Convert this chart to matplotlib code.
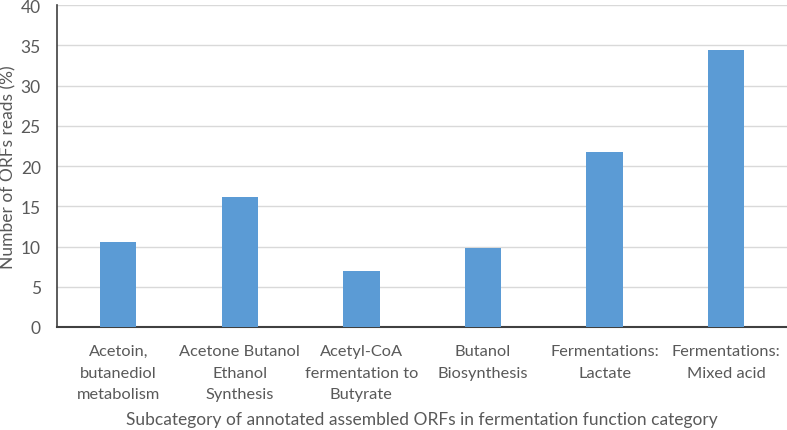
import matplotlib
matplotlib.use("Agg")
import matplotlib.pyplot as plt

categories = ["Acetoin,\nbutanediol\nmetabolism",
              "Acetone Butanol\nEthanol\nSynthesis",
              "Acetyl-CoA\nfermentation to\nButyrate",
              "Butanol\nBiosynthesis",
              "Fermentations:\nLactate",
              "Fermentations:\nMixed acid"]
values = [10.5, 16.1, 6.9, 9.8, 21.8, 34.4]
yticks = [0, 5, 10, 15, 20, 25, 30, 35, 40]

plt.rcParams['font.family'] = ['Lato', 'DejaVu Sans']
text_color = '#595959'

fig = plt.figure(figsize=(7.87, 4.31), dpi=100)
ax = fig.add_axes([0.073, 0.239, 0.927, 0.747])

x = range(len(values))
ax.bar(x, values, width=0.3, color='#5b9bd5', zorder=3)

ax.set_xlim(-0.5, len(values) - 0.5)
ax.set_ylim(0, 40)
ax.set_yticks(yticks)
ax.grid(axis='y', color='#d9d9d9', linewidth=1, zorder=0)
ax.set_xticks(list(x))
ax.set_xticklabels(categories, fontsize=11.8, color=text_color, linespacing=1.72)
ax.tick_params(axis='x', length=0, pad=12)
ax.tick_params(axis='y', length=0, pad=12, labelsize=12.5, labelcolor=text_color)

for s in ['top', 'right']:
    ax.spines[s].set_visible(False)
ax.spines['bottom'].set_color('#404040')
ax.spines['bottom'].set_linewidth(1.5)
ax.spines['left'].set_color('#404040')
ax.spines['left'].set_linewidth(1.2)

ax.set_ylabel('Number of ORFs reads (%)', fontsize=12.5, color=text_color, labelpad=3)
ax.set_xlabel('Subcategory of annotated assembled ORFs in fermentation function category',
              fontsize=12.5, color=text_color, labelpad=7)

fig.savefig('out.png', dpi=100)
